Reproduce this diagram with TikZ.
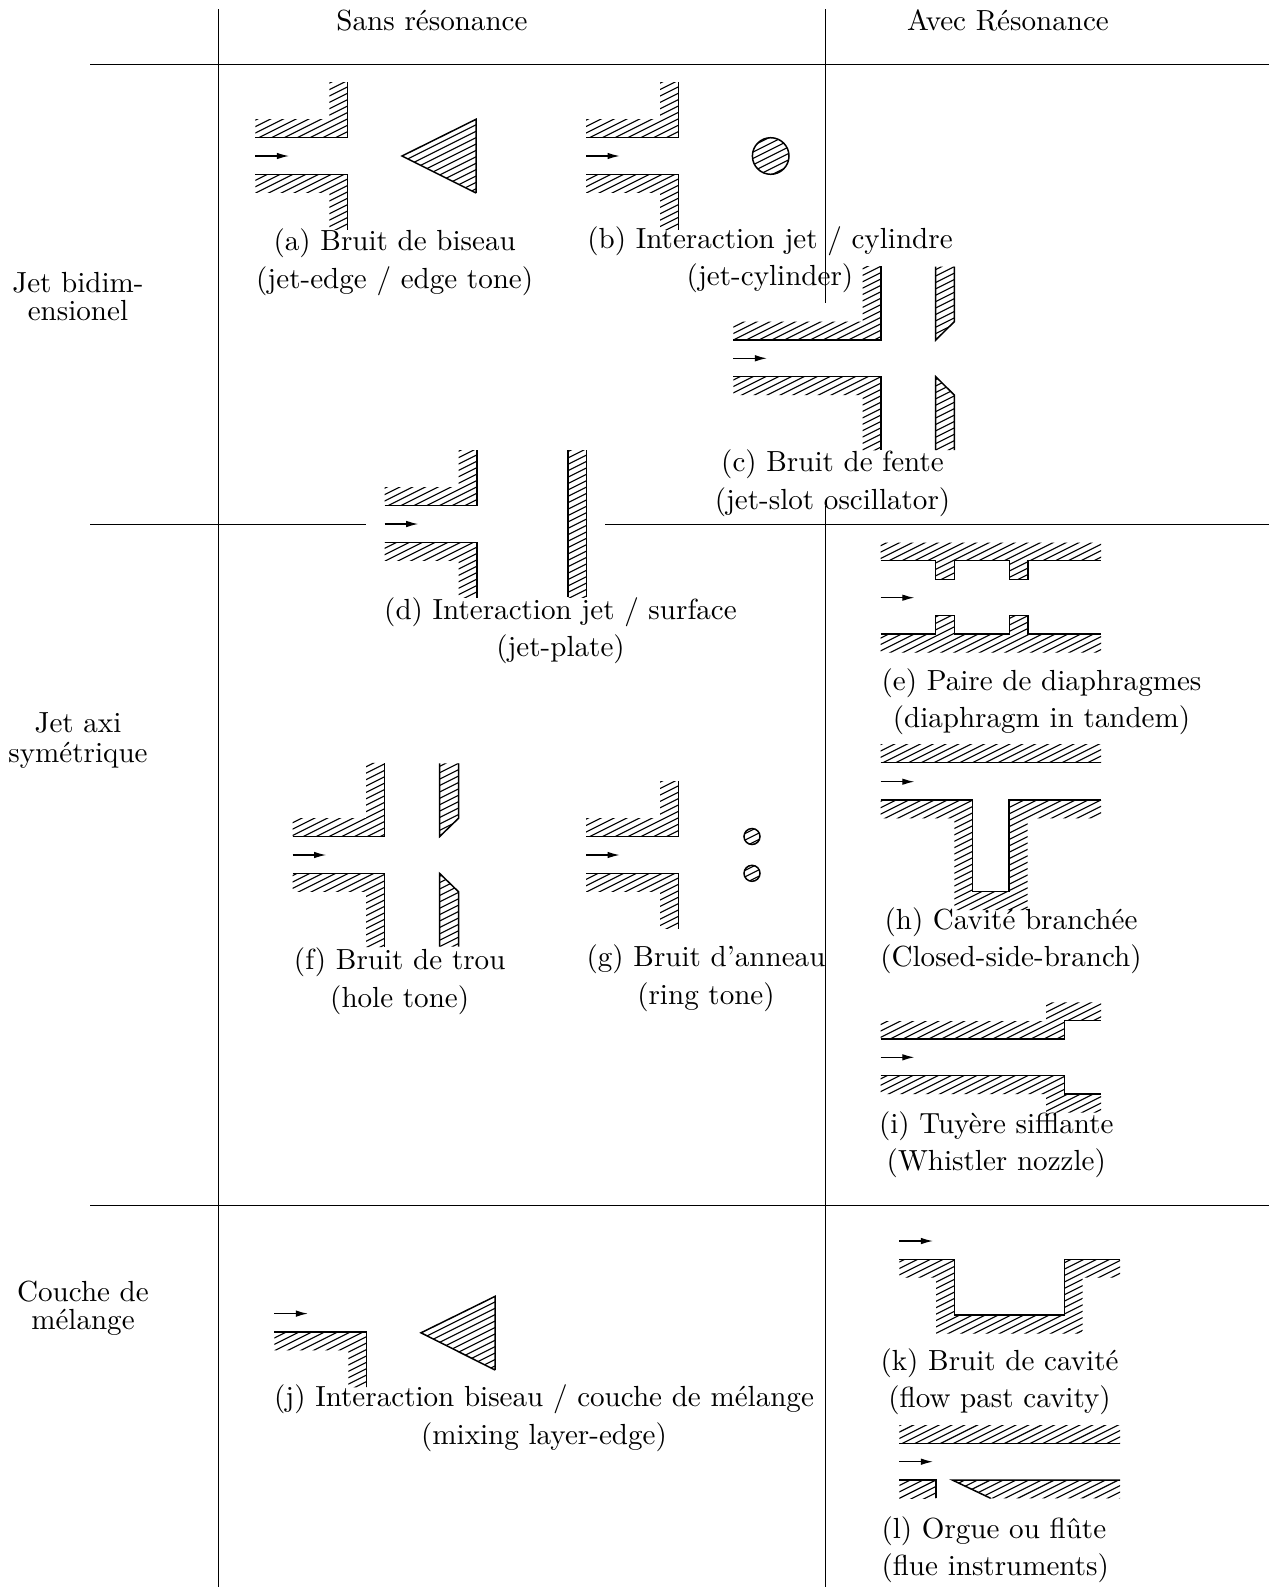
\documentclass[tikz,border=0pt]{standalone}
\usetikzlibrary{arrows.meta}
\newcommand{\pxunit}{0.3208pt}
\tikzset{
  x=\pxunit, y=-\pxunit,
  rule/.style={line width=0.32pt, black},
  edgeline/.style={line width=0.48pt, black, line cap=butt, line join=miter},
  hatchline/.style={line width=0.36pt, black},
  hatched/.style={path picture={
    \foreach \k in {-26,...,26}{
      \draw[hatchline] ([shift={(-165,82.5+\k*6.4)}]path picture bounding box.center)
        -- ([shift={(165,-82.5+\k*6.4)}]path picture bounding box.center);
    }}},
  flow/.style={line width=0.4pt, -{Latex[length=3.9pt,width=2.1pt]}},
  lab/.style={inner sep=0pt, outer sep=0pt, anchor=base, align=center, scale=0.933, transform shape,
    font=\fontsize{10}{12.86}\selectfont},
  side/.style={lab},
}
% #1 polygon for hatching, #2 open path for the stroke
\newcommand{\solid}[2]{\path[hatched] #1 -- cycle; \draw[edgeline] #2;}
% #1 x0  #2 y centre  #3 length  #4 arm length beyond the wall
\newcommand{\nozzle}[4]{%
  \begin{scope}[shift={(#1,#2)}]
    \solid{(0,-18.4) -- (#3,-18.4) -- (#3,-18.4-36.8-#4) -- (#3-18.4,-18.4-36.8-#4) -- (#3-18.4,-36.8) -- (0,-36.8)}
          {(0,-18.4) -- (#3,-18.4) -- (#3,-18.4-36.8-#4)}
    \solid{(0,18.4) -- (#3,18.4) -- (#3,18.4+36.8+#4) -- (#3-18.4,18.4+36.8+#4) -- (#3-18.4,36.8) -- (0,36.8)}
          {(0,18.4) -- (#3,18.4) -- (#3,18.4+36.8+#4)}
  \end{scope}}
\newcommand{\jetarrow}[3]{%
  \coordinate (#1s) at (#2,#3);
  \coordinate (#1e) at ([shift={(33.7,0)}]#1s);
  \draw[flow] (#1s) -- (#1e);}
\begin{document}
\begin{tikzpicture}
\useasboundingbox (0,0) rectangle (1269,1587);
% table rules
\coordinate (vaT) at (218.6,9); \coordinate (vaB) at (218.6,1587);
\coordinate (vbT) at (825.3,9); \coordinate (vbM) at (825.3,302.7);
\coordinate (vcT) at (825.3,506); \coordinate (vcB) at (825.3,1587);
\coordinate (haL) at (90,64); \coordinate (haR) at (1269,64);
\coordinate (hbL) at (90,524); \coordinate (hbM) at (365.7,524);
\coordinate (hbN) at (605,524); \coordinate (hbR) at (1269,524);
\coordinate (hcL) at (90,1205.3); \coordinate (hcR) at (1269,1205.3);
\draw[rule] (vaT) -- (vaB);
\draw[rule] (vbT) -- (vbM);
\draw[rule] (vcT) -- (vcB);
\draw[rule] (haL) -- (haR);
\draw[rule] (hbL) -- (hbM);
\draw[rule] (hbN) -- (hbR);
\draw[rule] (hcL) -- (hcR);
% headers
\node[lab] (hsans) at (432,30.3) {Sans résonance};
\node[lab] (havec) at (1008,30.3) {Avec Résonance};
% side titles
\node[side] (sjet) at (78,320.5) {Jet bidim-\\[-3.2pt]ensionel};
\node[side] (saxi) at (78,762.3) {Jet axi\\[-2.6pt]symétrique};
\node[side] (scou) at (83,1329.5) {Couche de\\[-3.1pt]mélange};

% (a)
\nozzle{255.3}{156}{92.4}{18.6}
\jetarrow{a}{255.3}{156}
\solid{(402,156) -- (476,119.3) -- (476,193)}{(476,193) -- (402,156) -- (476,119.3) -- (476,193)}
\node[lab] (la) at (394.7,288) {(a) Bruit de biseau\\(jet-edge / edge tone)};
% (b)
\nozzle{586}{156}{92.4}{18.6}
\jetarrow{b}{586}{156}
\path[hatched] (770.7,156) circle[radius=18.3];
\draw[edgeline] (770.7,156) circle[radius=18.3];
\node[lab] (lb) at (770,285.5) {(b) Interaction jet / cylindre\\(jet-cylinder)};
% (c)
\nozzle{733.3}{358.3}{147.7}{36.9}
\jetarrow{c}{733.3}{358.3}
\solid{(935.7,266.7) -- (954.3,266.7) -- (954.3,321.7) -- (935.7,340)}
      {(954.3,266.7) -- (954.3,321.7) -- (935.7,340) -- (935.7,266.7)}
\solid{(935.7,376.7) -- (954.3,395) -- (954.3,450) -- (935.7,450)}
      {(954.3,450) -- (954.3,395) -- (935.7,376.7) -- (935.7,450)}
\node[lab] (lc) at (832.5,509) {(c) Bruit de fente\\(jet-slot oscillator)};
% (d)
\nozzle{384.6}{524}{92.4}{18.6}
\jetarrow{d}{384.6}{524}
\solid{(568,450) -- (586.7,450) -- (586.7,597.3) -- (568,597.3)}{(568,450) -- (568,597.3)}
\draw[edgeline] (586.7,450) -- (586.7,597.3);
\node[lab] (ld) at (560.5,656.8) {(d) Interaction jet / surface\\(jet-plate)};
% (e)
\solid{(880.7,560.7) -- (935.7,560.7) -- (935.7,579.3) -- (954.7,579.3) -- (954.7,560.7) -- (1009.3,560.7) -- (1009.3,579.3) -- (1028,579.3) -- (1028,560.7) -- (1101,560.7) -- (1101,542.7) -- (880.7,542.7)}
      {(880.7,560.7) -- (935.7,560.7) -- (935.7,579.3) -- (954.7,579.3) -- (954.7,560.7) -- (1009.3,560.7) -- (1009.3,579.3) -- (1028,579.3) -- (1028,560.7) -- (1101,560.7)}
\solid{(880.7,634) -- (935.7,634) -- (935.7,615.7) -- (954.7,615.7) -- (954.7,634) -- (1009.3,634) -- (1009.3,615.7) -- (1028,615.7) -- (1028,634) -- (1101,634) -- (1101,652.7) -- (880.7,652.7)}
      {(880.7,634) -- (935.7,634) -- (935.7,615.7) -- (954.7,615.7) -- (954.7,634) -- (1009.3,634) -- (1009.3,615.7) -- (1028,615.7) -- (1028,634) -- (1101,634)}
\jetarrow{e}{880.7}{597.7}
\node[lab] (le) at (1041.5,727.5) {(e) Paire de diaphragmes\\(diaphragm in tandem)};
% (h)
\solid{(880.7,762.7) -- (1101,762.7) -- (1101,744.3) -- (880.7,744.3)}{(880.7,762.7) -- (1101,762.7)}
\solid{(880.7,800) -- (972.7,800) -- (972.7,891.7) -- (1009,891.7) -- (1009,800) -- (1101,800) -- (1101,818.3) -- (1027.7,818.3) -- (1027.7,910) -- (954.3,910) -- (954.3,818.3) -- (880.7,818.3)}
      {(880.7,800) -- (972.7,800) -- (972.7,891.7) -- (1009,891.7) -- (1009,800) -- (1101,800)}
\jetarrow{h}{880.7}{781.7}
\node[lab] (lh) at (1011,966.5) {(h) Cavité branchée\\(Closed-side-branch)};
% (i)
\solid{(880.7,1039) -- (1064.7,1039) -- (1064.7,1020.7) -- (1101,1020.7) -- (1101,1002.3) -- (1046,1002.3) -- (1046,1021) -- (880.7,1021)}
      {(880.7,1039) -- (1064.7,1039) -- (1064.7,1020.7) -- (1101,1020.7)}
\solid{(880.7,1075.7) -- (1064.7,1075.7) -- (1064.7,1094) -- (1101,1094) -- (1101,1112.5) -- (1046,1112.5) -- (1046,1094) -- (880.7,1094)}
      {(880.7,1075.7) -- (1064.7,1075.7) -- (1064.7,1094) -- (1101,1094)}
\jetarrow{i}{880.7}{1057.3}
\node[lab] (li) at (996.3,1170.9) {(i) Tuyère sifflante\\(Whistler nozzle)};
% (f)
\nozzle{292.5}{855}{92.1}{36.9}
\jetarrow{f}{292.5}{855}
\solid{(439.5,763.4) -- (458.5,763.4) -- (458.5,818.3) -- (439.5,836.7)}
      {(458.5,763.4) -- (458.5,818.3) -- (439.5,836.7) -- (439.5,763.4)}
\solid{(439.5,873.3) -- (458.5,891.7) -- (458.5,946.6) -- (439.5,946.6)}
      {(458.5,946.6) -- (458.5,891.7) -- (439.5,873.3) -- (439.5,946.6)}
\node[lab] (lf) at (399.7,1007) {(f) Bruit de trou\\(hole tone)};
% (g)
\nozzle{586}{855}{92.4}{18.6}
\jetarrow{g}{586}{855}
\path[hatched] (752,836.5) circle[radius=8];
\draw[edgeline] (752,836.5) circle[radius=8];
\path[hatched] (752,873.3) circle[radius=8];
\draw[edgeline] (752,873.3) circle[radius=8];
\node[lab] (lg) at (706,1004) {(g) Bruit d'anneau\\(ring tone)};
% (j)
\begin{scope}[shift={(274.3,1313.6)}]
  \solid{(0,18.4) -- (92.4,18.4) -- (92.4,73.8) -- (74,73.8) -- (74,36.8) -- (0,36.8)}
        {(0,18.4) -- (92.4,18.4) -- (92.4,73.8)}
\end{scope}
\jetarrow{j}{274.3}{1313.6}
\solid{(421,1332.8) -- (495,1296.4) -- (495,1370)}{(495,1370) -- (421,1332.8) -- (495,1296.4) -- (495,1370)}
\node[lab] (lj) at (544,1444.2) {(j) Interaction biseau / couche de mélange\\(mixing layer-edge)};
% (k)
\solid{(899.3,1259.3) -- (954.3,1259.3) -- (954.3,1315) -- (1064.3,1315) -- (1064.3,1259.3) -- (1120,1259.3) -- (1120,1277.7) -- (1082.7,1277.7) -- (1082.7,1333.7) -- (936,1333.7) -- (936,1277.7) -- (899.3,1277.7)}
      {(899.3,1259.3) -- (954.3,1259.3) -- (954.3,1315) -- (1064.3,1315) -- (1064.3,1259.3) -- (1120,1259.3)}
\jetarrow{k}{899.3}{1241}
\node[lab] (lk) at (999.5,1407.5) {(k) Bruit de cavité\\(flow past cavity)};
% (l)
\solid{(899.3,1443.3) -- (1120,1443.3) -- (1120,1425.7) -- (899.3,1425.7)}{(899.3,1443.3) -- (1120,1443.3)}
\jetarrow{l}{899.3}{1461.7}
\solid{(899.3,1480) -- (936,1480) -- (936,1498.3) -- (899.3,1498.3)}{(899.3,1480) -- (936,1480) -- (936,1498.3)}
\solid{(952.3,1480) -- (1120,1480) -- (1120,1498.3) -- (990.7,1498.3)}{(990.7,1498.3) -- (952.3,1480) -- (1120,1480)}
\node[lab, anchor=base west, align=left] (ll) at (881.5,1575.5) {(l) Orgue ou flûte\\(flue instruments)};
\end{tikzpicture}
\end{document}
